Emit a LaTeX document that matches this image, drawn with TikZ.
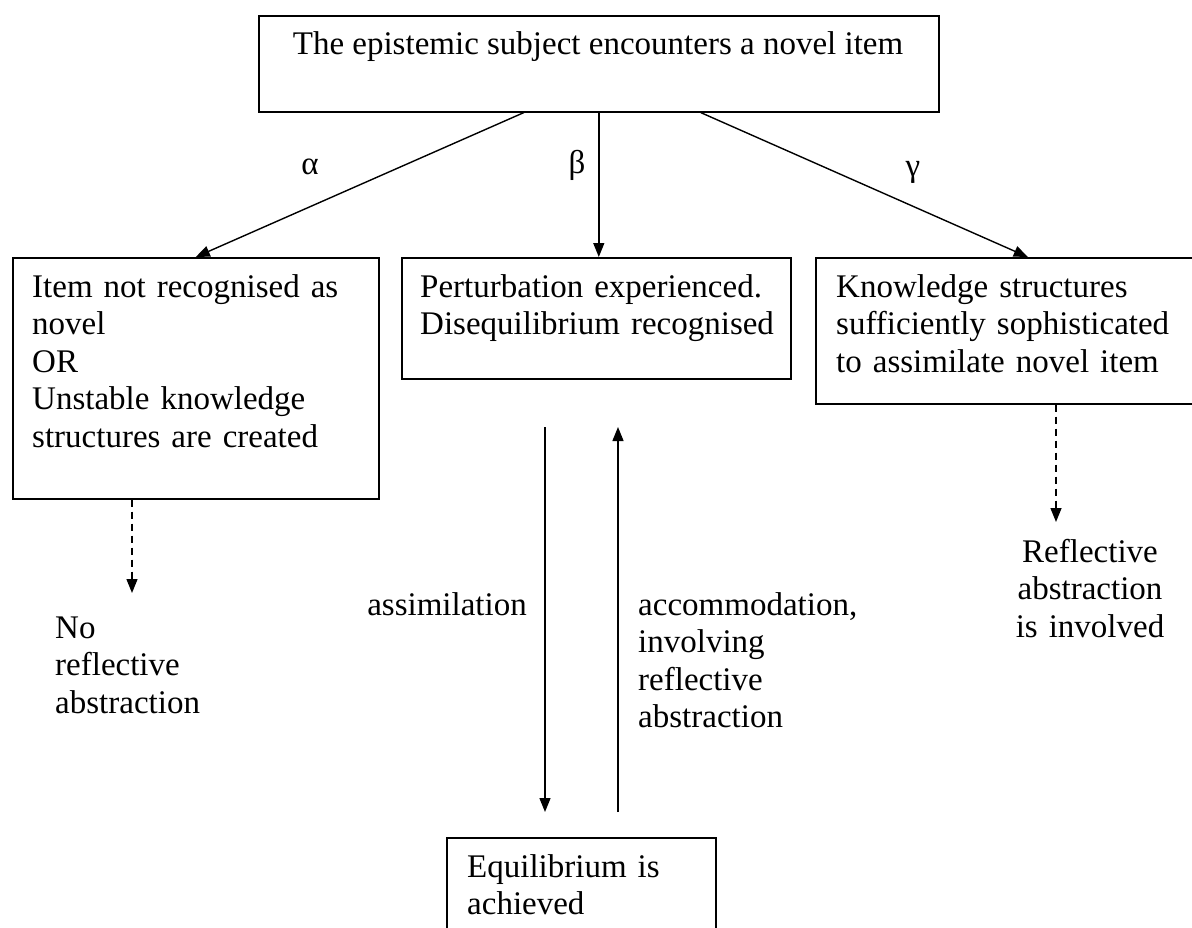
\documentclass[tikz,border=0pt]{standalone}
\usepackage{fontspec}
\setmainfont{Liberation Serif}
\usetikzlibrary{arrows.meta}
\begin{document}
\begin{tikzpicture}[x=1pt,y=-1pt,
  box/.style={draw, line width=1.6pt, inner sep=0pt, anchor=north west},
  txt/.style={font=\fontsize{33}{37.5}\selectfont, inner sep=0pt, align=left},
  greek/.style={font=\fontsize{33}{37.5}\selectfont, inner sep=0pt},
  arr/.style={line width=1.4pt, -{Triangle[length=14pt,width=11pt]}},
  darr/.style={line width=1.4pt, dash pattern=on 7pt off 5pt, -{Triangle[length=14pt,width=11pt]}}
]
\useasboundingbox (0,0) rectangle (1192,927);
\fill[white] (0,0) rectangle (1192,927);
\clip (0,0) rectangle (1192,927);

% boxes
\node[box, minimum width=680, minimum height=96] (top) at (258,15) {};
\node[box, minimum width=366, minimum height=241] (L) at (12,257) {};
\node[box, minimum width=389, minimum height=121] (M) at (401,257) {};
\node[box, minimum width=390, minimum height=146] (R) at (815,257) {};
\node[box, minimum width=269, minimum height=150] (E) at (446,837) {};

% box texts
\node[txt, anchor=base] (toptext) at (598,54) {The epistemic subject encounters a novel item};
\node[txt, text width=340, anchor=base west] (Ltext) at (32,297) {Item not recognised as\\ novel\\ OR\\ Unstable knowledge\\ structures are created};
\node[txt, text width=360, anchor=base west] (Mtext) at (420,297) {Perturbation experienced.\\ Disequilibrium recognised};
\node[txt, text width=350, anchor=base west] (Rtext) at (836,297) {Knowledge structures\\ sufficiently sophisticated\\ to assimilate novel item};
\node[txt, text width=240, anchor=base west] (Etext) at (467,877) {Equilibrium is\\ achieved};

% free labels
\node[greek] (alpha) at (310,167) {α};
\node[greek] (beta) at (577,165) {β};
\node[greek] (gamma) at (913,172) {γ};
\node[txt, text width=200, anchor=base west] (noref) at (55,638) {No\\ reflective\\ abstraction};
\node[txt, text width=200, align=center, anchor=base] (isref) at (1090,562) {Reflective\\ abstraction\\ is involved};
\node[txt, anchor=base east] (assim) at (527,615) {assimilation};
\node[txt, text width=250, anchor=base west] (accom) at (638,615) {accommodation,\\ involving\\ reflective\\ abstraction};

% coordinates for free ends
\coordinate (nrEnd) at (132,593);
\coordinate (raEnd) at (1056,522);
\coordinate (asTop) at (545,427);
\coordinate (asBot) at (545,812);
\coordinate (acTop) at (618,427);
\coordinate (acBot) at (618,812);

% connectors
\draw[arr] ([xshift=-75pt]top.south) -- (L.north);
\draw[arr] (top.south) -- (top.south |- M.north);
\draw[arr] ([xshift=102pt]top.south) -- ([xshift=17pt]R.north);
\draw[darr] (L.south -| nrEnd) -- (nrEnd);
\draw[darr] (R.south -| raEnd) -- (raEnd);
\draw[arr] (asTop) -- (asBot);
\draw[arr] (acBot) -- (acTop);
\end{tikzpicture}
\end{document}
